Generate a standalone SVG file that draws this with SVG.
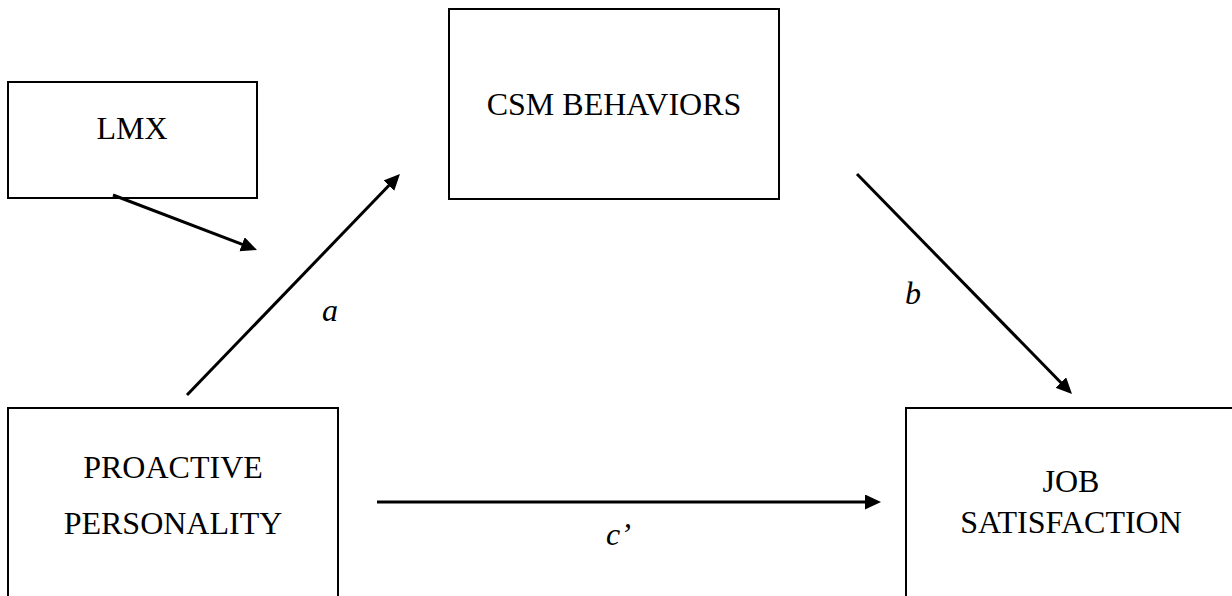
<svg xmlns="http://www.w3.org/2000/svg" width="1232" height="596" viewBox="0 0 1232 596">
  <defs>
    <style>
      .box { fill: #ffffff; stroke: #000000; stroke-width: 2; }
      .lbl { font-family: "Liberation Serif", "Times New Roman", serif; font-size: 32px; fill: #000000; text-anchor: middle; }
      .path { font-family: "Liberation Serif", "Times New Roman", serif; font-size: 32px; font-style: italic; fill: #000000; }
      .conn { stroke: #000000; stroke-width: 3; fill: none; marker-end: url(#arrow); }
    </style>
    <marker id="arrow" markerUnits="userSpaceOnUse" markerWidth="17" markerHeight="16" refX="8" refY="7.5" orient="auto">
      <path d="M0,0 L16,7.5 L0,15 Z" fill="#000000"/>
    </marker>
  </defs>
  <rect width="1232" height="596" fill="#ffffff"/>

  <g id="node-lmx">
    <rect class="box" x="8" y="82" width="249" height="116"/>
    <text class="lbl" x="132" y="139">LMX</text>
  </g>

  <g id="node-csm">
    <rect class="box" x="449" y="9" width="330" height="190"/>
    <text class="lbl" x="614" y="115">CSM BEHAVIORS</text>
  </g>

  <g id="node-proactive">
    <rect class="box" x="8" y="408" width="330" height="190"/>
    <text class="lbl" x="173" y="478">PROACTIVE</text>
    <text class="lbl" x="173" y="534">PERSONALITY</text>
  </g>

  <g id="node-job">
    <rect class="box" x="906" y="408" width="330" height="190"/>
    <text class="lbl" x="1071" y="492">JOB</text>
    <text class="lbl" x="1071" y="533">SATISFACTION</text>
  </g>

  <g id="connectors">
    <!-- LMX moderation arrow: (113,195) -> tip (257,250) -->
    <line class="conn" x1="113" y1="195" x2="249.5" y2="247.1"/>
    <!-- a: (187,395) -> tip (400,174) -->
    <line class="conn" x1="187" y1="395" x2="394.4" y2="179.8"/>
    <!-- b: (857,174) -> tip (1072,394) -->
    <line class="conn" x1="857" y1="174" x2="1066.4" y2="388.3"/>
    <!-- c': (377,502) -> tip (881,502) -->
    <line class="conn" x1="377" y1="502" x2="873" y2="502"/>
    <text class="path" x="322" y="321">a</text>
    <text class="path" x="905" y="304">b</text>
    <text class="path" x="606" y="545">c’</text>
  </g>
</svg>
